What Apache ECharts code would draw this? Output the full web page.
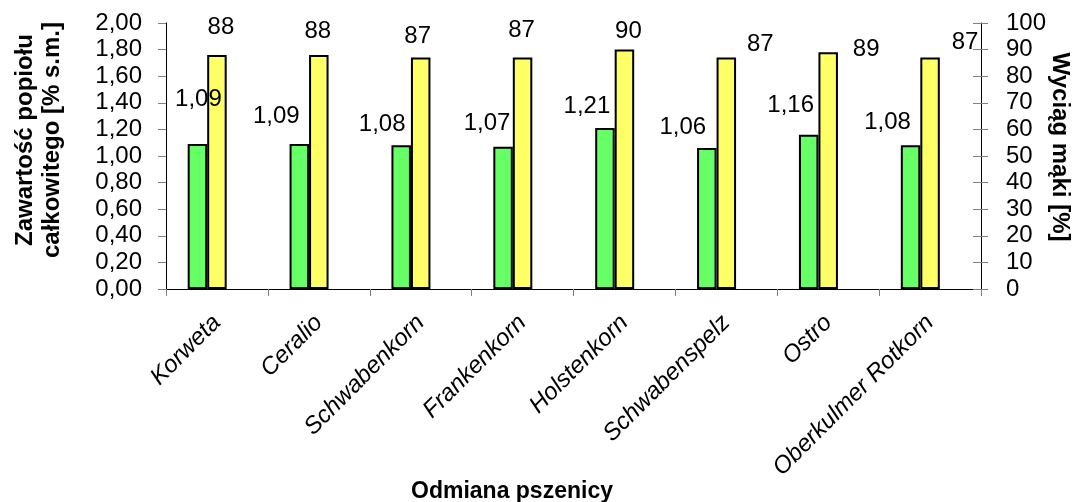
<!DOCTYPE html>
<html>
<head>
<meta charset="utf-8">
<script src="https://cdn.jsdelivr.net/npm/echarts@6/dist/echarts.min.js"></script>
<style>
html,body{margin:0;padding:0;background:#fff;}
#chart{width:1075px;height:502px;}
</style>
</head>
<body>
<div id="chart"></div>
<script>
// ---- data ----
const categories = ['Korweta','Ceralio','Schwabenkorn','Frankenkorn','Holstenkorn','Schwabenspelz','Ostro','Oberkulmer Rotkorn'];
const ashValues = [1.09, 1.09, 1.08, 1.07, 1.21, 1.06, 1.16, 1.08];
const flourYield = [88, 88, 87, 87, 90, 87, 89, 87];
const leftTicks = { min: 0, max: 2, interval: 0.2 };
const rightTicks = { min: 0, max: 100, interval: 10 };

// ---- label placement (layout, not data) ----
const ashLabelOffsets = [[1,-45],[-23,-28],[-19,-21],[-16,-23],[-18,-22],[-24,-21],[-18,-29],[-23,-23]];
const yieldLabelOffsets = [[4,-28],[-1,-24],[-3,-21],[-1,-27],[4,-18],[34,-13],[38,-3],[35,-15]];

const FONT = "'Liberation Sans', Arial, sans-serif";
const fmtComma = v => v.toFixed(2).replace('.', ',');

const chart = echarts.init(document.getElementById('chart'), null, {renderer: 'canvas'});

const ashData = ashValues.map((v, i) => ({
  value: v,
  label: { offset: ashLabelOffsets[i] }
}));
const yieldData = flourYield.map((v, i) => ({
  value: v,
  label: { offset: yieldLabelOffsets[i] }
}));

const barLabel = {
  show: true,
  position: 'top',
  distance: 0,
  verticalAlign: 'middle',
  align: 'center',
  color: '#000',
  fontFamily: FONT,
  fontSize: 24
};

chart.setOption({
  animation: false,
  backgroundColor: '#fff',
  grid: { left: 166, right: 94, top: 23, bottom: 213, containLabel: false },
  xAxis: {
    type: 'category',
    data: categories,
    axisLine: { lineStyle: { color: '#000', width: 1 } },
    axisTick: { show: true, length: 7, lineStyle: { color: '#808080' } },
    axisLabel: {
      rotate: 45,
      margin: 30,
      interval: 0,
      color: '#000',
      fontFamily: FONT,
      fontSize: 24,
      fontStyle: 'italic'
    },
    splitLine: { show: false }
  },
  yAxis: [
    {
      type: 'value',
      position: 'left',
      min: leftTicks.min, max: leftTicks.max, interval: leftTicks.interval,
      axisLine: { show: true, lineStyle: { color: '#000', width: 1 } },
      axisTick: { show: true, length: 8, lineStyle: { color: '#808080' } },
      axisLabel: { formatter: fmtComma, color: '#000', fontFamily: FONT, fontSize: 24, margin: 24 },
      splitLine: { show: false }
    },
    {
      type: 'value',
      position: 'right',
      min: rightTicks.min, max: rightTicks.max, interval: rightTicks.interval,
      axisLine: { show: true, lineStyle: { color: '#000', width: 1 } },
      axisTick: { show: true, length: 7, lineStyle: { color: '#808080' } },
      axisLabel: { color: '#000', fontFamily: FONT, fontSize: 24, margin: 25 },
      splitLine: { show: false }
    },
    {
      type: 'value',
      position: 'right',
      min: rightTicks.min, max: rightTicks.max, interval: rightTicks.interval,
      axisLine: { show: false },
      axisTick: { show: true, inside: true, length: 8, lineStyle: { color: '#808080' } },
      axisLabel: { show: false },
      splitLine: { show: false }
    }
  ],
  series: [
    {
      name: 'Zawartość popiołu',
      type: 'bar',
      yAxisIndex: 0,
      data: ashData,
      barWidth: 19.5,
      barGap: '0%',
      itemStyle: { color: '#66FF66', borderColor: '#000', borderWidth: 2 },
      label: Object.assign({}, barLabel, { formatter: p => fmtComma(p.value) })
    },
    {
      name: 'Wyciąg mąki',
      type: 'bar',
      yAxisIndex: 1,
      data: yieldData,
      barWidth: 19.5,
      barGap: '0%',
      itemStyle: { color: '#FFFF66', borderColor: '#000', borderWidth: 2 },
      label: Object.assign({}, barLabel, { formatter: p => String(Math.round(p.value)) })
    },
    {
      name: 'spacer',
      type: 'bar',
      yAxisIndex: 0,
      data: [],
      barWidth: 19.5,
      barGap: '0%',
      silent: true
    }
  ],
  graphic: [
    {
      type: 'text',
      x: 39, y: 140,
      rotation: Math.PI / 2,
      style: {
        text: 'Zawartość popiołu\ncałkowitego [% s.m.]',
        fontFamily: FONT, fontSize: 24, fontWeight: 'bold',
        lineHeight: 27,
        fill: '#000',
        textAlign: 'center', textVerticalAlign: 'middle'
      }
    },
    {
      type: 'text',
      x: 1060, y: 147,
      rotation: -Math.PI / 2,
      style: {
        text: 'Wyciąg mąki [%]',
        fontFamily: FONT, fontSize: 24, fontWeight: 'bold',
        fill: '#000',
        textAlign: 'center', textVerticalAlign: 'middle'
      }
    },
    {
      type: 'text',
      x: 512, y: 492,
      style: {
        text: 'Odmiana pszenicy',
        fontFamily: FONT, fontSize: 23, fontWeight: 'bold',
        fill: '#000',
        textAlign: 'center', textVerticalAlign: 'middle'
      }
    }
  ]
});
</script>
</body>
</html>
